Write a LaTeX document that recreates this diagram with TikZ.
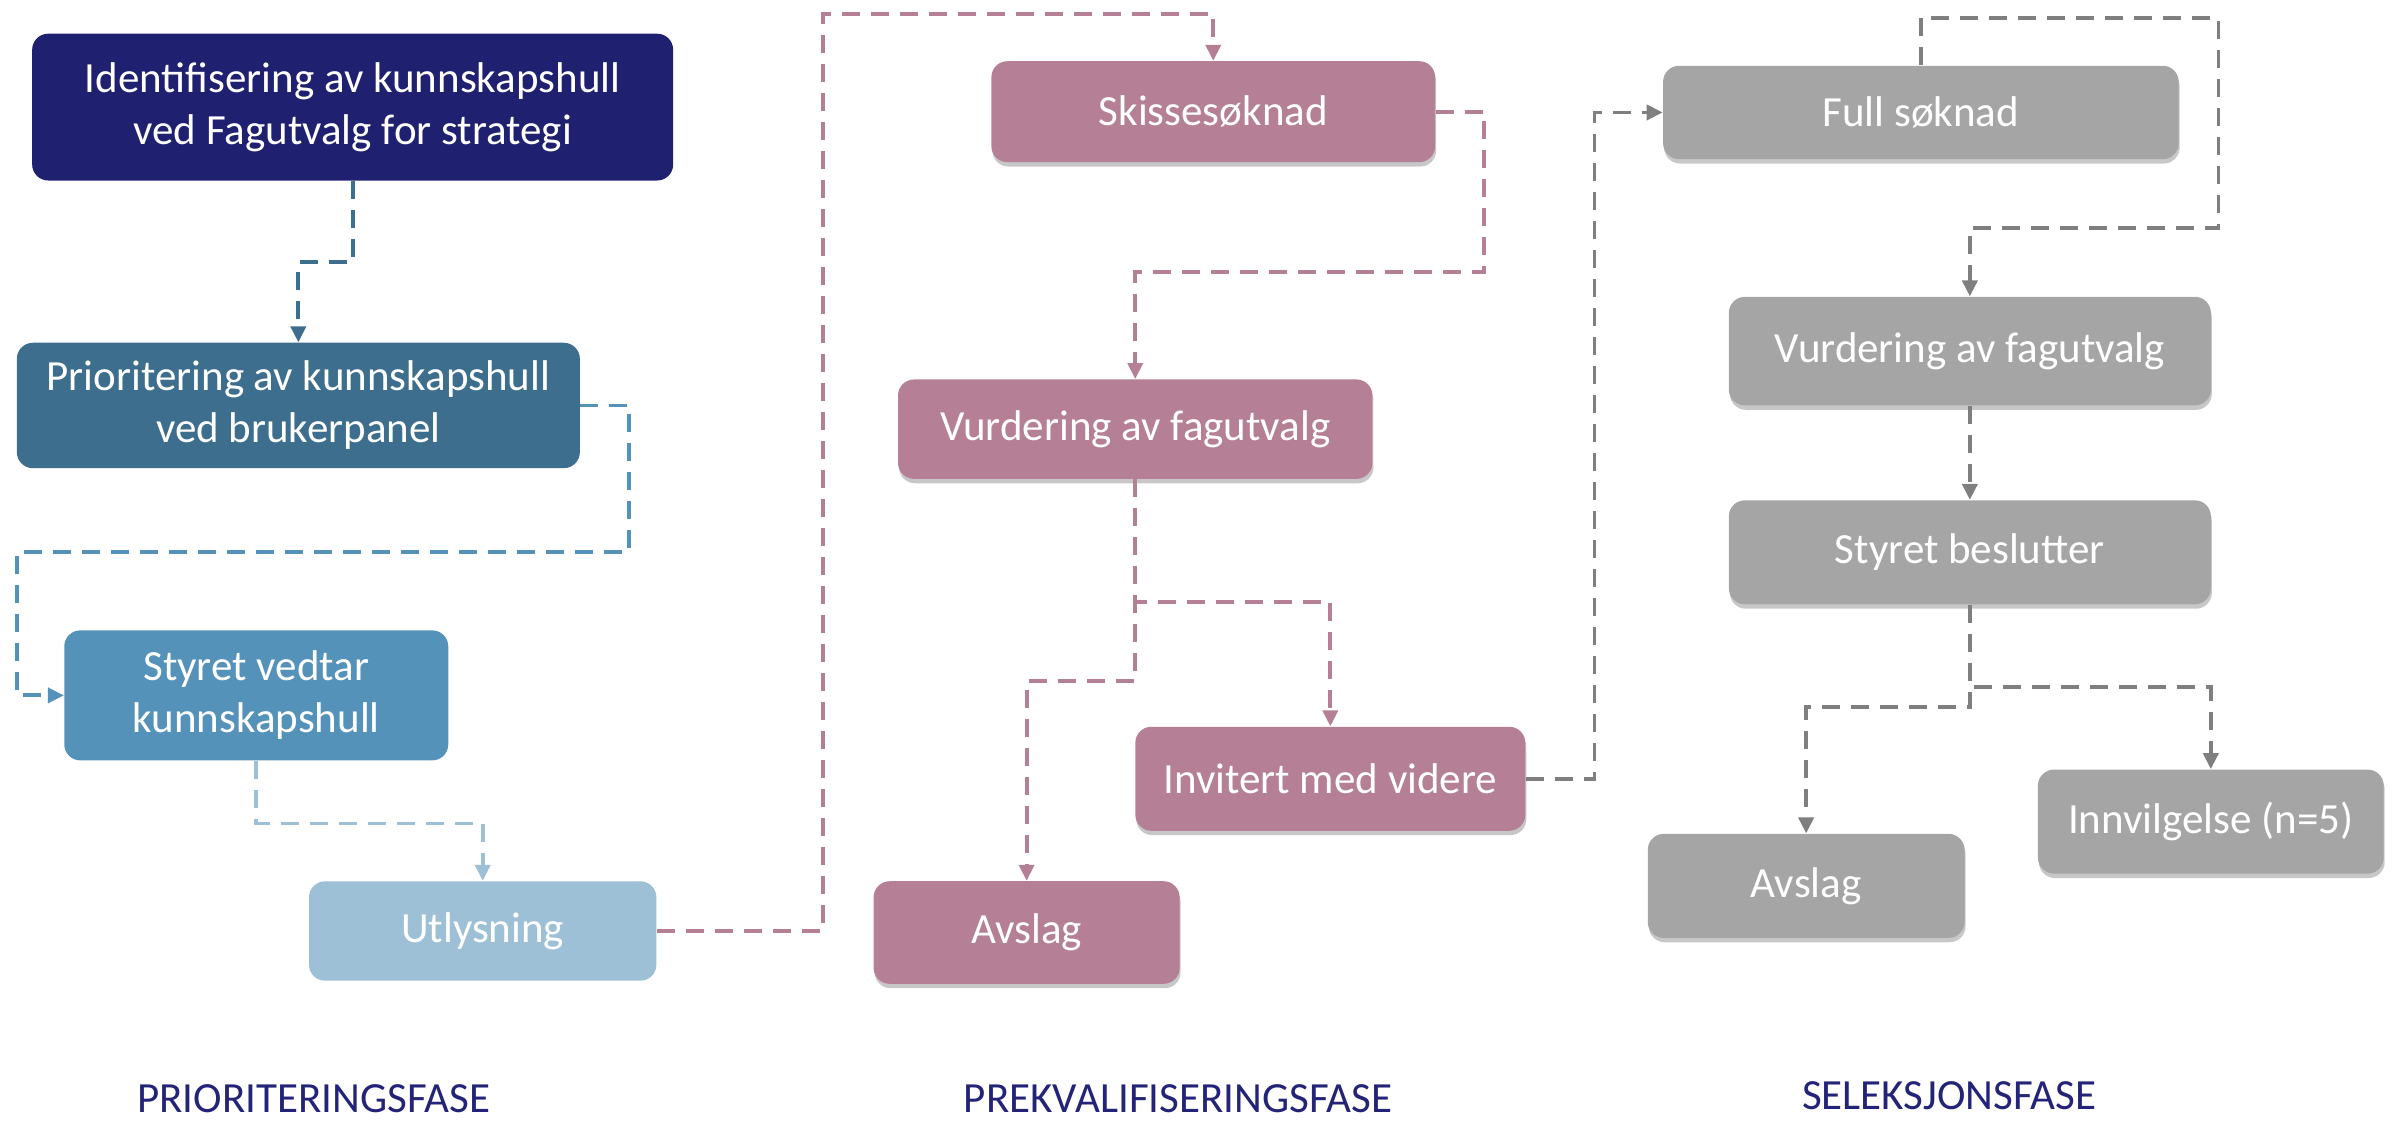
\documentclass[tikz,border=0pt]{standalone}
\usepackage{fontspec}
\setmainfont{Carlito}
\usetikzlibrary{arrows.meta,shadows}
\definecolor{cnavy}{RGB}{32,32,112}
\definecolor{cteal}{RGB}{61,110,142}
\definecolor{cblue}{RGB}{85,146,186}
\definecolor{clight}{RGB}{157,192,214}
\definecolor{cpink}{RGB}{181,128,150}
\definecolor{cgray}{RGB}{165,165,165}
\definecolor{cgline}{RGB}{127,127,127}
\definecolor{clabel}{RGB}{35,35,120}
\begin{document}
\begin{tikzpicture}[x=0.765pt,y=-0.765pt,
  box/.style={rectangle,rounded corners=8pt,inner sep=0pt,align=center,text=white,
    font=\fontsize{21.5pt}{26pt}\selectfont},
  shbox/.style={box,drop shadow={shadow xshift=0.5pt,shadow yshift=-2.2pt,opacity=0.22,fill=black}},
  conn/.style={line width=1.9pt,dash pattern=on 9pt off 5.5pt,-{Triangle[length=8pt,width=7.5pt]}},
  phase/.style={text=clabel,font=\fontsize{21.5pt}{26pt}\selectfont}]
\useasboundingbox (0,0) rectangle (1568,734.6);
% Prioriteringsfase
\node[box,fill=cnavy,minimum width=320.5pt,minimum height=73.4pt] (b1) at (230.5,70) {Identifisering av kunnskapshull\\ved Fagutvalg for strategi};
\node[box,fill=cteal,minimum width=281.5pt,minimum height=62.7pt] (b2) at (195,265) {Prioritering av kunnskapshull\\ved brukerpanel};
\node[box,fill=cblue,minimum width=192pt,minimum height=65pt] (b3) at (167.5,454.5) {Styret vedtar\\kunnskapshull};
\node[box,fill=clight,minimum width=173.7pt,minimum height=49.7pt] (b4) at (315.5,608.5) {Utlysning};
% Prekvalifiseringsfase
\node[shbox,fill=cpink,minimum width=221.9pt,minimum height=50.5pt] (sk) at (793,73) {Skisses\o knad};
\node[shbox,fill=cpink,minimum width=237.2pt,minimum height=49.7pt] (v1) at (742,280.5) {Vurdering av fagutvalg};
\node[shbox,fill=cpink,minimum width=195pt,minimum height=52pt] (inv) at (869.5,509) {Invitert med videre};
\node[shbox,fill=cpink,minimum width=153pt,minimum height=51.3pt] (av1) at (671,609.5) {Avslag};
% Seleksjonsfase
\node[shbox,fill=cgray,minimum width=257.8pt,minimum height=46.7pt] (full) at (1255.5,73.5) {Full s\o knad};
\node[shbox,fill=cgray,minimum width=241pt,minimum height=54.3pt] (v2) at (1287.5,229.5) {Vurdering av fagutvalg};
\node[shbox,fill=cgray,minimum width=241pt,minimum height=52pt] (st) at (1287.5,361) {Styret beslutter};
\node[shbox,fill=cgray,minimum width=158.4pt,minimum height=52pt] (av2) at (1180.5,579) {Avslag};
\node[shbox,fill=cgray,minimum width=172.9pt,minimum height=52pt] (inn) at (1445,537) {Innvilgelse (n=5)};
% connectors
\draw[conn,cteal] (b1.south) -- ++(0,53) -| (b2.north);
\draw[conn,cblue] (b2.east) -- ++(32,0) |- (11,361) |- (b3.west);
\draw[conn,clight] (b3.south) -- ++(0,41) -| (b4.north);
\draw[conn,cpink] (b4.east) -| (538,9) -| (sk.north);
\draw[conn,cpink] (sk.east) -| (970,178) -| (v1.north);
\draw[conn,cpink] (v1.south) -- ++(0,80) -| (inv.north);
\draw[conn,cpink] (v1.south) -- ++(0,132) -| (av1.north);
\draw[conn,cgline] (inv.east) -- ++(45,0) |- (full.west);
\draw[conn,cgline] (full.north) -- ++(0,-31) -| (1450,149) -| (v2.north);
\draw[conn,cgline] (v2.south) -- (st.north);
\draw[conn,cgline] (st.south) -- ++(0,67) -| (av2.north);
\draw[conn,cgline] (st.south) -- ++(0,54) -| (inn.north);
% phase labels
\node[phase] (p1) at (205,718) {PRIORITERINGSFASE};
\node[phase] (p2) at (770,718) {PREKVALIFISERINGSFASE};
\node[phase] (p3) at (1274,716) {SELEKSJONSFASE};
\end{tikzpicture}
\end{document}
